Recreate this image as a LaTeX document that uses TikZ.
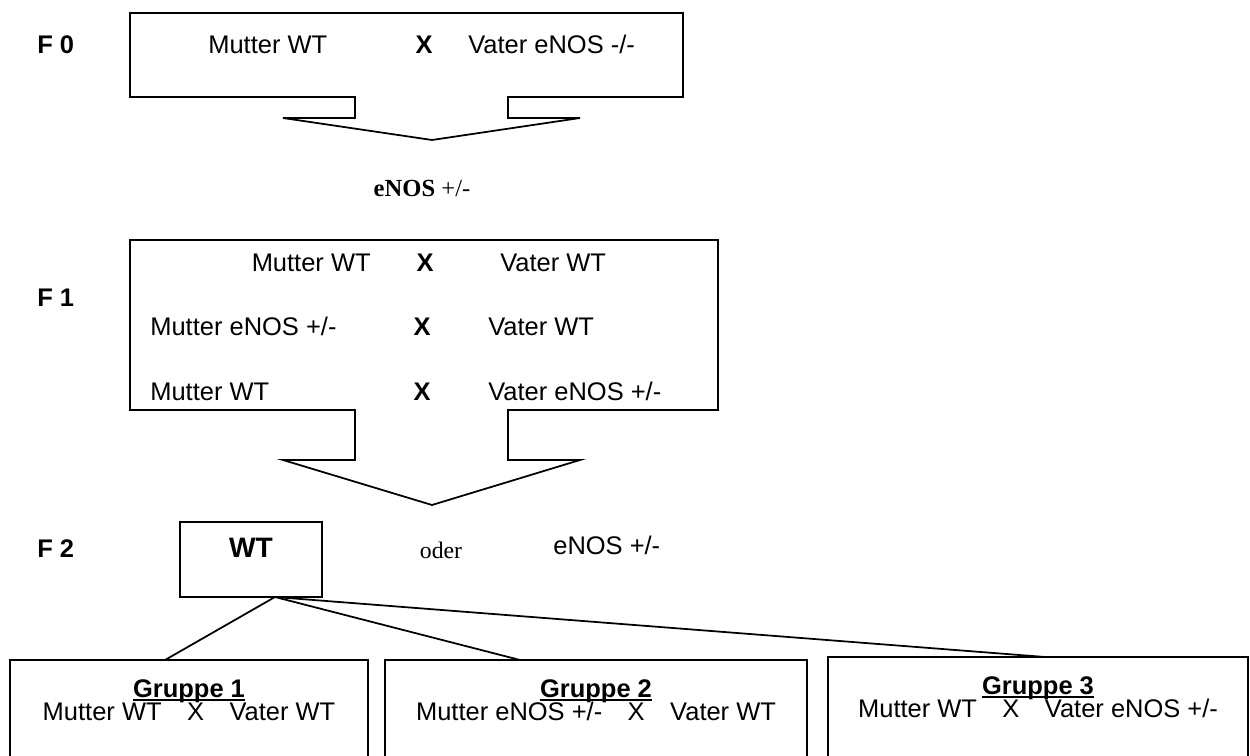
\documentclass[tikz,border=0pt]{standalone}
\usepackage{fontspec}
\setmainfont{Liberation Sans}
\newfontfamily\serifschrift{Liberation Serif}

\tikzset{
  txt/.style={inner sep=0pt, font=\fontsize{14.5}{16}\selectfont},
  fett/.style={inner sep=0pt, font=\bfseries\fontsize{14.5}{16}\selectfont},
  linie/.style={line width=1pt, line join=miter},
}

\begin{document}
\begin{tikzpicture}[x=0.02cm, y=-0.02cm]
\useasboundingbox (0,0) rectangle (1250,756);

% F 0
\node[fett, anchor=base west] (lf0) at (37,54) {F 0};
\draw[linie] (355,97) -- (130,97) -- (130,13) -- (683,13) -- (683,97) -- (508,97)
  -- (508,118) -- (580,118) -- (432,140) -- (283,118) -- (355,118) -- cycle;
\node[txt, anchor=base west] (m0) at (208,54) {Mutter WT};
\node[fett, anchor=base] (x0) at (424,54) {X};
\node[txt, anchor=base west] (v0) at (468,54) {Vater eNOS -/-};

\node[anchor=base, inner sep=0pt, font=\serifschrift\fontsize{14}{16}\selectfont] (f0kind) at (422,197) {\textbf{eNOS} +/-};

% F 1
\node[fett, anchor=base west] (lf1) at (37,307) {F 1};
\draw[linie] (355,410) -- (130,410) -- (130,240) -- (718,240) -- (718,410) -- (508,410)
  -- (508,460) -- (580,460) -- (432,505) -- (283,460) -- (355,460) -- cycle;
\node[txt, anchor=base east] (m1a) at (371,272) {Mutter WT};
\node[fett, anchor=base] (x1a) at (425,272) {X};
\node[txt, anchor=base west] (v1a) at (500,272) {Vater WT};
\node[txt, anchor=base west] (m1b) at (150,336) {Mutter eNOS +/-};
\node[fett, anchor=base] (x1b) at (422,336) {X};
\node[txt, anchor=base west] (v1b) at (488,336) {Vater WT};
\node[txt, anchor=base west] (m1c) at (150,401) {Mutter WT};
\node[fett, anchor=base] (x1c) at (422,401) {X};
\node[txt, anchor=base west] (v1c) at (488,401) {Vater eNOS +/-};

% F 2
\node[fett, anchor=base west] (lf2) at (37,557) {F 2};
\node[draw, linie, minimum width=2.84cm, minimum height=1.5cm] (wt) at (251,559.5) {};
\node[fett, anchor=base, font=\bfseries\fontsize{16}{18}\selectfont] (wtname) at (251,557) {WT};
\node[anchor=base, inner sep=0pt, font=\serifschrift\fontsize{13.5}{16}\selectfont] (oder) at (441,558) {oder};
\node[txt, anchor=base west] (f2enos) at (553,554) {eNOS +/-};

% Gruppen
\draw[linie] (10,756) -- (10,660) -- (368,660) -- (368,756);
\draw[linie] (385,756) -- (385,660) -- (807,660) -- (807,756);
\draw[linie] (828,756) -- (828,657) -- (1248,657) -- (1248,756);
\coordinate (wtfuss) at (275,597);
\coordinate (g1top) at (165,660);
\coordinate (g2top) at (520,660);
\coordinate (g3top) at (1045,657);
\draw[linie] (wtfuss) -- (g1top);
\draw[linie] (wtfuss) -- (g2top);
\draw[linie] (wtfuss) -- (g3top);

\node[fett, anchor=base] (g1) at (189,697) {Gruppe 1};
\node[txt, anchor=base] (g1paar) at (189,720) {Mutter WT\quad X\quad Vater WT};
\node[fett, anchor=base] (g2) at (596,697) {Gruppe 2};
\node[txt, anchor=base] (g2paar) at (596,720) {Mutter eNOS +/-\quad X\quad Vater WT};
\node[fett, anchor=base] (g3) at (1038,694) {Gruppe 3};
\node[txt, anchor=base] (g3paar) at (1038,717) {Mutter WT\quad X\quad Vater eNOS +/-};
% unterstreichen
\foreach \g in {g1,g2,g3}
  \draw[line width=0.9pt] ([yshift=-1.6pt]\g.base west) -- ([yshift=-1.6pt]\g.base east);
\end{tikzpicture}
\end{document}
